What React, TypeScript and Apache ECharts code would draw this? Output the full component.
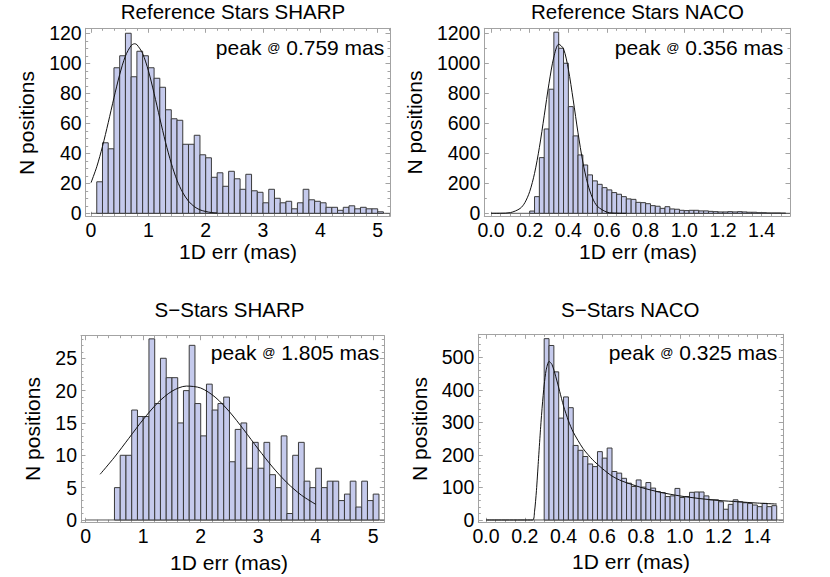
import React, { useEffect, useRef } from "react";
import * as echarts from "echarts";

// ---------- data ----------
// Panel 1: Reference Stars SHARP
const refSharpBinStart = 0.1;
const refSharpBinWidth = 0.1;
const refSharpCounts = [21, 47, 43, 97, 105, 120, 91, 108, 105, 97, 90, 84, 69, 63, 62, 46, 46, 52, 39, 37, 24, 27, 18, 28, 23, 16, 26, 15, 14, 7, 16, 10, 7, 8, 3, 7, 16, 9, 8, 7, 4, 4, 2, 4, 5, 3, 4, 3, 3, 1];
const refSharpFitX = [0, 0.1, 0.2, 0.3, 0.4, 0.5, 0.6, 0.7, 0.76, 0.8, 0.9, 1.0, 1.1, 1.2, 1.3, 1.4, 1.5, 1.6, 1.7, 1.8, 1.9, 2.0, 2.1, 2.2];
const refSharpFitY = [20.4, 31.0, 44.6, 60.4, 77.0, 92.5, 104.8, 111.8, 113, 112.4, 106.5, 95.1, 79.9, 63.3, 47.3, 33.3, 22.0, 13.8, 8.1, 4.5, 2.3, 1.2, 0.5, 0.2];
const refSharpXTicks = [0, 1, 2, 3, 4, 5];
const refSharpYTicks = [0, 20, 40, 60, 80, 100, 120];

// Panel 2: Reference Stars NACO
const refNacoBinStart = 0.2;
const refNacoBinWidth = 0.025;
const refNacoCounts = [15, 111, 371, 562, 827, 1207, 1100, 1000, 711, 516, 389, 322, 256, 216, 193, 171, 156, 138, 127, 111, 96, 93, 73, 71, 64, 51, 47, 33, 44, 29, 27, 20, 18, 20, 20, 16, 16, 13, 11, 9, 9, 11, 9, 11, 9, 7, 7, 4, 4, 2, 2, 2, 1];
const refNacoFitX = [0, 0.05, 0.1, 0.15, 0.175, 0.2, 0.225, 0.25, 0.275, 0.3, 0.325, 0.35, 0.375, 0.4, 0.425, 0.45, 0.475, 0.5, 0.525, 0.55, 0.6, 0.65, 0.7];
const refNacoFitY = [0, 0.4, 4.5, 32, 71, 145, 266, 438, 650, 867, 1042, 1127, 1096, 960, 756, 536, 342, 197, 102, 47, 7.5, 0.8, 0];
const refNacoXTicks = [0, 0.2, 0.4, 0.6, 0.8, 1.0, 1.2, 1.4];
const refNacoYTicks = [0, 200, 400, 600, 800, 1000, 1200];

// Panel 3: S-Stars SHARP
const sSharpBinStart = 0.5;
const sSharpBinWidth = 0.1;
const sSharpCounts = [5, 10, 10, 17, 16, 16, 28, 18, 25, 22, 22, 15, 20, 27, 18, 13, 21, 17, 18, 19, 9, 14, 15, 8, 12, 8, 12, 7, 5, 13, 1, 10, 12, 6, 5, 8, 5, 6, 6, 3, 4, 6, 2, 6, 3, 4];
const sSharpFitX = [0.25, 0.5, 0.75, 1.0, 1.25, 1.5, 1.75, 2.0, 2.25, 2.5, 2.75, 3.0, 3.25, 3.5, 3.75, 4.0];
const sSharpFitY = [7.06, 9.71, 12.63, 15.54, 18.09, 19.91, 20.7, 20.4, 19.0, 16.73, 13.94, 10.98, 8.18, 5.76, 3.84, 2.42];
const sSharpXTicks = [0, 1, 2, 3, 4, 5];
const sSharpYTicks = [0, 5, 10, 15, 20, 25];

// Panel 4: S-Stars NACO
const sNacoBinStart = 0.3;
const sNacoBinWidth = 0.025;
const sNacoCounts = [557, 536, 455, 313, 378, 345, 229, 214, 195, 172, 164, 210, 190, 221, 149, 144, 128, 113, 103, 123, 101, 115, 98, 87, 84, 72, 74, 97, 69, 72, 85, 86, 86, 74, 62, 62, 56, 33, 48, 62, 56, 53, 51, 46, 41, 51, 41, 44];
const sNacoFitX = [0, 0.24, 0.25, 0.26, 0.27, 0.28, 0.29, 0.30, 0.31, 0.325, 0.34, 0.36, 0.38, 0.40, 0.425, 0.45, 0.5, 0.55, 0.6, 0.65, 0.7, 0.8, 0.9, 1.0, 1.1, 1.2, 1.3, 1.4, 1.5];
const sNacoFitY = [0, 0, 25, 90, 180, 270, 350, 415, 460, 487, 478, 440, 395, 350, 305, 270, 220, 185, 158, 135, 120, 100, 85, 74, 66, 60, 56, 52, 49];
const sNacoXTicks = [0, 0.2, 0.4, 0.6, 0.8, 1.0, 1.2, 1.4];
const sNacoYTicks = [0, 100, 200, 300, 400, 500];

const titles = ["Reference Stars SHARP", "Reference Stars NACO", "S\u2212Stars SHARP", "S\u2212Stars NACO"];
const peakValues = ["0.759", "0.356", "1.805", "0.325"];

// ---------- layout / style ----------
const FONT = '"Liberation Sans", Arial, Helvetica, sans-serif';
const FRAME = "#a3a3a3";
const BAR_FILL = "#c5caec";
const BAR_EDGE = "#3a3a3a";
const TITLE_SIZE = 20.5;
const NAME_SIZE = 21;
const TICK_SIZE = 19.5;
const PEAK_SIZE = 21;

type Panel = {
  counts: number[]; binStart: number; binWidth: number;
  fitX: number[]; fitY: number[]; smooth: number | boolean;
  xTicks: number[]; yTicks: number[]; xMinor: number; yMinor: number; xDigits: number;
  grid: { left: number; top: number; width: number; height: number };
  xMin: number; xMax: number; yMin: number; yMax: number;
  title: [number, number]; xName: [number, number]; yName: [number, number]; peak: [number, number];
};

const panels: Panel[] = [
  {
    counts: refSharpCounts, binStart: refSharpBinStart, binWidth: refSharpBinWidth,
    fitX: refSharpFitX, fitY: refSharpFitY, smooth: 0.3,
    xTicks: refSharpXTicks, yTicks: refSharpYTicks, xMinor: 0.2, yMinor: 5, xDigits: 0,
    grid: { left: 85.7, top: 28.3, width: 304.3, height: 188 },
    xMin: -0.093, xMax: 5.215, yMin: -2.0, yMax: 123.3,
    title: [233, 11.7], xName: [238, 251], yName: [26.7, 123], peak: [384.3, 47.5],
  },
  {
    counts: refNacoCounts, binStart: refNacoBinStart, binWidth: refNacoBinWidth,
    fitX: refNacoFitX, fitY: refNacoFitY, smooth: 0.3,
    xTicks: refNacoXTicks, yTicks: refNacoYTicks, xMinor: 0.05, yMinor: 100, xDigits: 1,
    grid: { left: 484.3, top: 28.3, width: 305.7, height: 188 },
    xMin: -0.035, xMax: 1.547, yMin: -20, yMax: 1233,
    title: [637.5, 11.7], xName: [638, 251], yName: [414, 122.5], peak: [783.3, 47],
  },
  {
    counts: sSharpCounts, binStart: sSharpBinStart, binWidth: sSharpBinWidth,
    fitX: sSharpFitX, fitY: sSharpFitY, smooth: 0.3,
    xTicks: sSharpXTicks, yTicks: sSharpYTicks, xMinor: 0.2, yMinor: 1, xDigits: 0,
    grid: { left: 81, top: 335.7, width: 303.3, height: 186.6 },
    xMin: -0.082, xMax: 5.193, yMin: -0.36, yMax: 28.49,
    title: [229.5, 309.5], xName: [229, 562], yName: [32, 429], peak: [379.3, 352],
  },
  {
    counts: sNacoCounts, binStart: sNacoBinStart, binWidth: sNacoBinWidth,
    fitX: sNacoFitX, fitY: sNacoFitY, smooth: 0.25,
    xTicks: sNacoXTicks, yTicks: sNacoYTicks, xMinor: 0.05, yMinor: 20, xDigits: 1,
    grid: { left: 478.3, top: 334.3, width: 305, height: 188 },
    xMin: -0.04, xMax: 1.534, yMin: -7.1, yMax: 570.4,
    title: [630.3, 309.5], xName: [631, 561], yName: [419, 429], peak: [777.3, 352.8],
  },
];

function minorValues(min: number, max: number, step: number, majors: number[]) {
  const out: number[] = [];
  const start = Math.ceil(min / step - 1e-9);
  for (let k = start; k * step <= max + 1e-9; k++) {
    const v = +(k * step).toFixed(6);
    if (!majors.some((m) => Math.abs(m - v) < 1e-9)) out.push(v);
  }
  return out;
}

function axisSet(gridIndex: number, isX: boolean, min: number, max: number, majors: number[], minors: number[], digits: number) {
  const pos = isX ? ["bottom", "top"] : ["left", "right"];
  const base = (position: string, vals: number[], len: number, line: boolean, labels: boolean) => ({
    type: "value",
    gridIndex,
    position,
    min,
    max,
    axisLine: { show: line, onZero: false, lineStyle: { color: FRAME, width: 1 } },
    axisTick: { show: true, inside: true, length: len, customValues: vals, lineStyle: { color: FRAME, width: 1 } },
    axisLabel: {
      show: labels,
      customValues: vals,
      margin: isX ? 4 : 4,
      color: "#000",
      fontSize: TICK_SIZE,
      fontFamily: FONT,
      formatter: (v: number) => (digits > 0 ? v.toFixed(digits) : String(Math.round(v))),
    },
    splitLine: { show: false },
    minorTick: { show: false },
  });
  return [
    base(pos[0], majors, 4.5, true, true),
    base(pos[1], majors, 4.5, true, false),
    base(pos[0], minors, 2.5, false, false),
    base(pos[1], minors, 2.5, false, false),
  ];
}

function buildOption() {
  const grid: any[] = [];
  const xAxis: any[] = [];
  const yAxis: any[] = [];
  const series: any[] = [];
  const graphic: any[] = [];

  panels.forEach((p, i) => {
    grid.push({ left: p.grid.left, top: p.grid.top, width: p.grid.width, height: p.grid.height, containLabel: false });
    const xa = axisSet(i, true, p.xMin, p.xMax, p.xTicks, minorValues(p.xMin, p.xMax, p.xMinor, p.xTicks), p.xDigits);
    const ya = axisSet(i, false, p.yMin, p.yMax, p.yTicks, minorValues(p.yMin, p.yMax, p.yMinor, p.yTicks), 0);
    const xIdx = xAxis.length;
    const yIdx = yAxis.length;
    xAxis.push(...xa);
    yAxis.push(...ya);

    // baseline (axis at y = 0, starting at x = 0)
    series.push({
      type: "line",
      xAxisIndex: xIdx,
      yAxisIndex: yIdx,
      data: [[0, 0], [p.xMax, 0]],
      symbol: "none",
      lineStyle: { color: "#555", width: 1 },
      silent: true,
      z: 1,
    });

    // histogram bars
    const bars = p.counts.map((c, k) => [p.binStart + k * p.binWidth, p.binStart + (k + 1) * p.binWidth, c]);
    series.push({
      type: "custom",
      xAxisIndex: xIdx,
      yAxisIndex: yIdx,
      data: bars,
      encode: { x: [0, 1], y: 2 },
      z: 2,
      renderItem: (_params: any, api: any) => {
        const a = api.coord([api.value(0), api.value(2)]);
        const b = api.coord([api.value(1), 0]);
        return {
          type: "rect",
          shape: { x: a[0], y: a[1], width: b[0] - a[0], height: b[1] - a[1] },
          style: { fill: BAR_FILL, stroke: BAR_EDGE, lineWidth: 1, opacity: 1 },
        };
      },
    });

    // fitted curve
    series.push({
      type: "line",
      xAxisIndex: xIdx,
      yAxisIndex: yIdx,
      data: p.fitX.map((x, k) => [x, p.fitY[k]]),
      symbol: "none",
      smooth: p.smooth,
      lineStyle: { color: "#111", width: 1 },
      silent: true,
      z: 3,
    });

    graphic.push({
      type: "text",
      x: p.title[0],
      y: p.title[1],
      style: { text: titles[i], fontSize: TITLE_SIZE, fontFamily: FONT, fill: "#000", align: "center", verticalAlign: "middle" },
    });
    graphic.push({
      type: "text",
      x: p.xName[0],
      y: p.xName[1],
      style: { text: "1D err (mas)", fontSize: NAME_SIZE, fontFamily: FONT, fill: "#000", align: "center", verticalAlign: "middle" },
    });
    graphic.push({
      type: "text",
      x: p.yName[0],
      y: p.yName[1],
      rotation: Math.PI / 2,
      style: { text: "N positions", fontSize: NAME_SIZE, fontFamily: FONT, fill: "#000", align: "center", verticalAlign: "middle" },
    });
    graphic.push({
      type: "text",
      x: p.peak[0],
      y: p.peak[1],
      z: 10,
      style: {
        text: "peak {s|@} " + peakValues[i] + " mas",
        fontSize: PEAK_SIZE,
        fontFamily: FONT,
        fill: "#000",
        align: "right",
        verticalAlign: "middle",
        rich: { s: { fontSize: 13, fontFamily: FONT, fill: "#000" } },
      },
    });
  });

  return { animation: false, backgroundColor: "#fff", grid, xAxis, yAxis, series, graphic };
}

export default function App() {
  const ref = useRef<HTMLDivElement>(null);
  useEffect(() => {
    if (!ref.current) return;
    const chart = echarts.init(ref.current, undefined, { renderer: "svg" });
    chart.setOption(buildOption() as any);
    return () => chart.dispose();
  }, []);
  return <div ref={ref} style={{ position: "fixed", left: 0, top: 0, width: 830, height: 577, background: "#fff" }} />;
}
